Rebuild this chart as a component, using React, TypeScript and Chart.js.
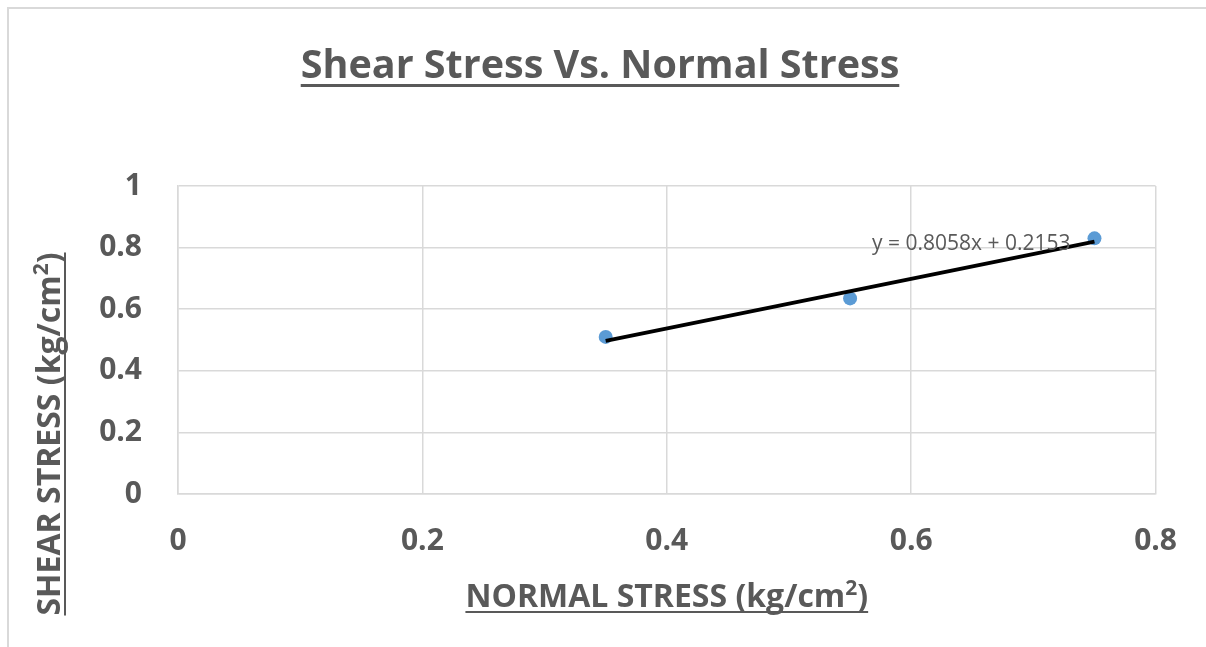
import React, { useEffect, useRef } from "react";
import { Chart, registerables } from "chart.js";

Chart.register(...registerables);

const normalStress = [0.35, 0.55, 0.75];
const shearStress = [0.51, 0.635, 0.83];
const trendSlope = 0.8058;
const trendIntercept = 0.2153;
const xTickValues = [0, 0.2, 0.4, 0.6, 0.8];
const yTickValues = [0, 0.2, 0.4, 0.6, 0.8, 1];
const titleText = "Shear Stress Vs. Normal Stress";
const xTitleMain = "NORMAL STRESS (kg/cm";
const yTitleMain = "SHEAR STRESS (kg/cm";
const supText = "2";
const closeText = ")";
const equationText = "y = 0.8058x + 0.2153";

const TEXT = "#595959";
const GRID = "#d9d9d9";
const FONT = "'Open Sans', Lato, sans-serif";

function drawAxisTitle(ctx: CanvasRenderingContext2D, main: string, size: number, cx: number, base: number) {
  const mainFont = `bold ${size}px ${FONT}`;
  const supFont = `bold ${Math.round(size * 0.65)}px ${FONT}`;
  ctx.font = mainFont;
  const w1 = ctx.measureText(main).width;
  const w3 = ctx.measureText(closeText).width;
  ctx.font = supFont;
  const w2 = ctx.measureText(supText).width;
  const total = w1 + w2 + w3;
  const x0 = cx - total / 2;
  ctx.font = mainFont;
  ctx.fillText(main, x0, base);
  ctx.font = supFont;
  ctx.fillText(supText, x0 + w1, base - 12);
  ctx.font = mainFont;
  ctx.fillText(closeText, x0 + w1 + w2, base);
  ctx.fillRect(x0, base + 4, total, 2);
}

const textPlugin = {
  id: "textPlugin",
  afterDraw(chart: any) {
    const ctx: CanvasRenderingContext2D = chart.ctx;
    ctx.save();
    // outer frame
    ctx.fillStyle = GRID;
    ctx.fillRect(7, 7, 2, 640);
    ctx.fillRect(7, 7, 1199, 2);

    ctx.fillStyle = TEXT;
    ctx.strokeStyle = TEXT;
    ctx.textBaseline = "alphabetic";
    ctx.textAlign = "left";

    // title
    ctx.font = `bold 39.5px ${FONT}`;
    const tw = ctx.measureText(titleText).width;
    const tcx = 600;
    ctx.fillText(titleText, tcx - tw / 2, 78);
    ctx.fillRect(tcx - tw / 2, 84, tw, 3);

    const area = chart.chartArea;
    // x title
    drawAxisTitle(ctx, xTitleMain, 32, (area.left + area.right) / 2, 607);
    // y title
    ctx.save();
    ctx.translate(60, 434);
    ctx.rotate(-Math.PI / 2);
    drawAxisTitle(ctx, yTitleMain, 32, 0, 0);
    ctx.restore();

    // equation
    ctx.font = `21px ${FONT}`;
    ctx.fillText(equationText, 872, 250);
    ctx.restore();
  },
};

export default function App() {
  const ref = useRef<HTMLCanvasElement | null>(null);
  useEffect(() => {
    if (!ref.current) return;
    const points = normalStress.map((x, i) => ({ x, y: shearStress[i] }));
    const xMin = Math.min(...normalStress);
    const xMax = Math.max(...normalStress);
    const trend = [
      { x: xMin, y: trendSlope * xMin + trendIntercept },
      { x: xMax, y: trendSlope * xMax + trendIntercept },
    ];
    const tickFont = { family: FONT, size: 30, weight: "bold" as const };
    const chart = new Chart(ref.current, {
      type: "scatter",
      data: {
        datasets: [
          {
            label: "Trendline",
            data: trend,
            showLine: true,
            borderColor: "#000000",
            borderWidth: 3.8,
            pointRadius: 0,
            pointHoverRadius: 0,
            order: 0,
          },
          {
            label: "Shear stress",
            data: points,
            backgroundColor: "#5b9bd5",
            borderColor: "#5b9bd5",
            borderWidth: 0,
            pointRadius: 7,
            order: 1,
          },
        ],
      },
      options: {
        animation: false,
        responsive: true,
        maintainAspectRatio: false,
        layout: { padding: { left: 0, top: 186, right: 48, bottom: 0 } },
        plugins: {
          legend: { display: false },
          tooltip: { enabled: false },
          title: { display: false },
        },
        scales: {
          x: {
            type: "linear",
            min: 0,
            max: 0.8,
            afterFit: (s: any) => {
              s.height = 153;
            },
            afterBuildTicks: (s: any) => {
              s.ticks = xTickValues.map((v) => ({ value: v }));
            },
            grid: { color: GRID, lineWidth: 1.5, drawTicks: false },
            border: { color: GRID, width: 1.5 },
            ticks: {
              color: TEXT,
              font: tickFont,
              padding: 29,
              callback: (v: any) => String(Number(Number(v).toFixed(1))),
            },
          },
          y: {
            type: "linear",
            min: 0,
            max: 1,
            afterFit: (s: any) => {
              s.width = 178;
            },
            afterBuildTicks: (s: any) => {
              s.ticks = yTickValues.map((v) => ({ value: v }));
            },
            grid: { color: GRID, lineWidth: 1.5, drawTicks: false },
            border: { color: GRID, width: 1.5 },
            ticks: {
              color: TEXT,
              font: tickFont,
              padding: 36,
              callback: (v: any) => String(Number(Number(v).toFixed(1))),
            },
          },
        },
      },
      plugins: [textPlugin],
    });
    return () => chart.destroy();
  }, []);
  return (
    <div style={{ position: "fixed", left: 0, top: 0, width: 1206, height: 647, background: "#ffffff" }}>
      <canvas ref={ref} />
    </div>
  );
}
